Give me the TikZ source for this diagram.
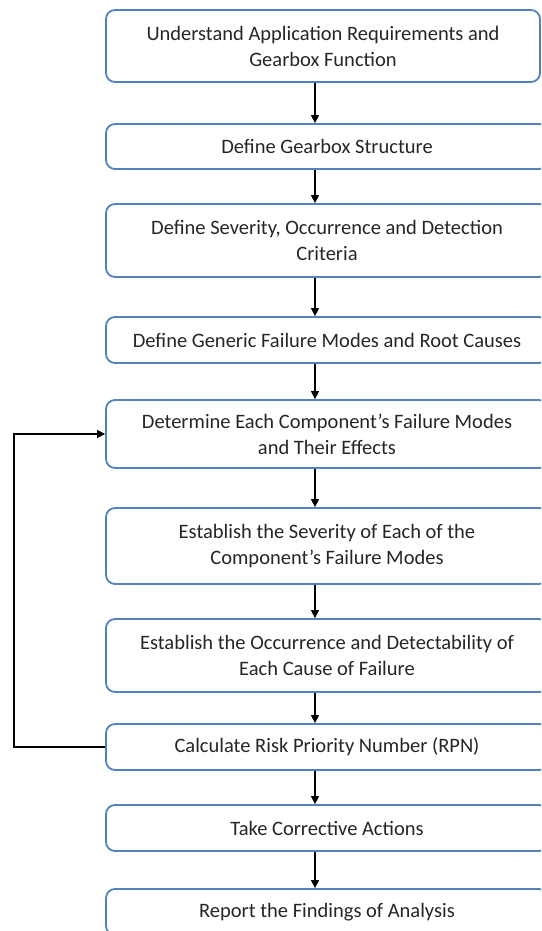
\documentclass[tikz,border=0pt]{standalone}
\usepackage{fontspec}
\setmainfont{Carlito}
\usetikzlibrary{arrows.meta}
\definecolor{boxline}{RGB}{84,130,185}
\tikzset{
  stepbox/.style={draw=boxline, line width=1.8pt, rounded corners=9pt, fill=white,
    align=center, inner sep=0pt, text=black!85,
    font=\fontsize{20.5}{26}\selectfont},
  flow/.style={draw=black, line width=1.3pt, -{Triangle[length=8pt,width=8pt]}}
}
\begin{document}
\begin{tikzpicture}[x=1pt,y=-1pt]
\useasboundingbox (0,0) rectangle (541,931);
\clip (0,0) rectangle (541,931);
% process steps (top/bottom edges fixed by the minimum heights)
\node[stepbox, minimum width=434pt, minimum height=72pt] (b1) at (323,46)
  {Understand Application Requirements and\\Gearbox Function};
\node[stepbox, minimum width=442pt, minimum height=45pt] (b2) at (327,146.5)
  {Define Gearbox Structure};
\node[stepbox, minimum width=442pt, minimum height=73pt] (b3) at (327,240.5)
  {Define Severity, Occurrence and Detection\\Criteria};
\node[stepbox, minimum width=442pt, minimum height=46pt] (b4) at (327,340)
  {Define Generic Failure Modes and Root Causes};
\node[stepbox, minimum width=442pt, minimum height=68pt] (b5) at (327,434)
  {Determine Each Component's Failure Modes\\and Their Effects};
\node[stepbox, minimum width=442pt, minimum height=76pt] (b6) at (327,546)
  {Establish the Severity of Each of the\\Component's Failure Modes};
\node[stepbox, minimum width=442pt, minimum height=73pt] (b7) at (327,655.5)
  {Establish the Occurrence and Detectability of\\Each Cause of Failure};
\node[stepbox, minimum width=442pt, minimum height=46pt] (b8) at (327,747)
  {Calculate Risk Priority Number (RPN)};
\node[stepbox, minimum width=442pt, minimum height=46pt] (b9) at (327,828)
  {Take Corrective Actions};
\node[stepbox, minimum width=442pt, minimum height=46pt] (b10) at (327,912)
  {Report the Findings of Analysis};
% vertical flow line and feedback loop
\coordinate (ax) at (315,0);
\coordinate (lx) at (14,0);
\foreach \a/\b in {b1/b2,b2/b3,b3/b4,b4/b5,b5/b6,b6/b7,b7/b8,b8/b9,b9/b10}
  \draw[flow] (\a.south -| ax) -- (\b.north -| ax);
\draw[flow] (b8.west) -- (b8.west -| lx) -- (b5.west -| lx) -- (b5.west);
\end{tikzpicture}
\end{document}
